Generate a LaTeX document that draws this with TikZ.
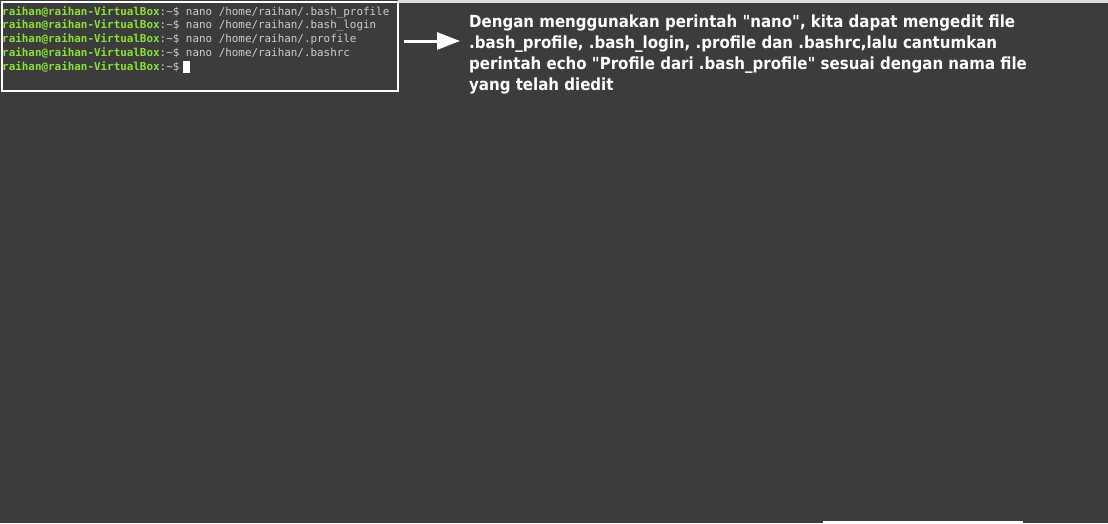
\documentclass[tikz,border=0pt]{standalone}
\usepackage{fontspec}
\newfontfamily\termfont{DejaVu Sans Mono}
\newfontfamily\notefont{DejaVu Sans Condensed}
\usetikzlibrary{calc, positioning, arrows.meta}

\definecolor{bgdark}{RGB}{60,60,60}
\definecolor{promptgreen}{RGB}{138,226,52}
\definecolor{termgray}{RGB}{205,205,205}
\definecolor{stripgray}{RGB}{220,220,220}
\newcommand{\userprompt}{{\bfseries\color{promptgreen}raihan@raihan-VirtualBox}{\color{termgray}:\textasciitilde\$}}

\begin{document}
\begin{tikzpicture}[
    x=1pt, y=-1pt,
    >={Triangle[length=23pt, width=17pt]},
    termbox/.style={draw=white, line width=2pt, anchor=north west, minimum width=396pt, minimum height=89pt, inner sep=0pt},
    termline/.style={anchor=base west, inner sep=0pt, text=termgray, font=\termfont\fontsize{10.9}{14}\selectfont},
    cursor/.style={fill=white, anchor=south west, minimum width=6.5pt, minimum height=12pt, inner sep=0pt},
    note/.style={anchor=north west, inner sep=0pt, align=left, text=white, font=\notefont\bfseries\fontsize{16.7}{21}\selectfont}
]

    % Screenshot background
    \fill[bgdark] (0,0) rectangle (1108,523);
    \useasboundingbox (0,0) rectangle (1108,523);
    \fill[stripgray] (398,0) rectangle (1108,3);
    \fill[white] (823,521) rectangle (1023,523);

    % Terminal
    \node[termbox] (term) at (1,1) {};
    \foreach \i/\f in {1/.bash\_profile, 2/.bash\_login, 3/.profile, 4/.bashrc} {
        \node[termline] (l\i) at (2, {15+13.9*(\i-1)}) {\userprompt{} nano /home/raihan/\f};
    }
    \node[termline] (l5) at (2, 70.6) {\userprompt};
    \node[cursor] (cur) at ($(l5.base east)+(3.5,2.5)$) {};

    % Arrow to the note
    \coordinate (tip) at (460,41);
    \draw[->, white, line width=3pt] ([xshift=5pt]term.east |- tip) -- (tip);

    % Note
    \node[note] (note) at (469,14.5) {Dengan menggunakan perintah "nano", kita dapat mengedit file\\
        .bash\_profile, .bash\_login, .profile dan .bashrc,lalu cantumkan\\
        perintah echo "Profile dari .bash\_profile" sesuai dengan nama file\\
        yang telah diedit};

\end{tikzpicture}
\end{document}
